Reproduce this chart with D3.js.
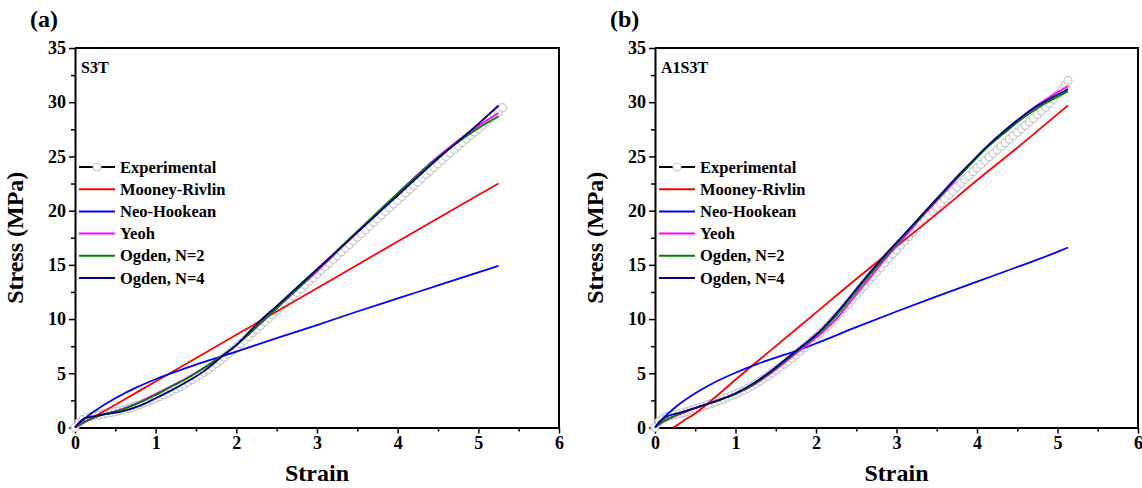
<!DOCTYPE html>
<html><head><meta charset="utf-8">
<script src="https://cdn.jsdelivr.net/npm/d3@7"></script>
<style>
body{margin:0;background:#fff}
text{font-family:"Liberation Serif","Times New Roman",serif;font-weight:bold;fill:#000}
</style>
</head><body>
<svg id="c" width="1142" height="488"></svg>
<script>
// ---------- data ----------
const seriesNames = ["Experimental","Mooney-Rivlin","Neo-Hookean","Yeoh","Ogden, N=2","Ogden, N=4"];
const seriesColors = ["#000000","#ff0000","#0000ff","#ff00ff","#008000","#000080"];
const xTicks = [0,1,2,3,4,5,6];
const yTicks = [0,5,10,15,20,25,30,35];
const panelLabels = ["(a)","(b)"];
const sampleNames = ["S3T","A1S3T"];

// Panel (a) S3T : [strain, stress MPa]
const expA = [[0,0],[0.05,0.45],[0.10,0.75],[0.15,0.92],[0.20,1.02],[0.25,1.1],[0.30,1.17],[0.35,1.24],[0.40,1.31],[0.45,1.38],[0.50,1.46],[0.55,1.54],[0.60,1.63],[0.65,1.74],[0.70,1.85],[0.75,1.97],[0.80,2.1],[0.85,2.24],[0.90,2.38],[0.95,2.53],[1.00,2.69],[1.05,2.85],[1.10,3.02],[1.15,3.2],[1.20,3.38],[1.25,3.57],[1.30,3.77],[1.35,3.97],[1.40,4.18],[1.45,4.4],[1.50,4.62],[1.55,4.85],[1.60,5.09],[1.65,5.35],[1.70,5.62],[1.75,5.9],[1.80,6.19],[1.85,6.48],[1.90,6.78],[1.95,7.09],[2.00,7.4],[2.05,7.72],[2.10,8.05],[2.15,8.38],[2.20,8.72],[2.25,9.06],[2.30,9.4],[2.35,9.74],[2.40,10.08],[2.45,10.42],[2.50,10.76],[2.55,11.1],[2.60,11.44],[2.65,11.78],[2.70,12.12],[2.75,12.46],[2.80,12.8],[2.85,13.14],[2.90,13.48],[2.95,13.82],[3.00,14.16],[3.05,14.5],[3.10,14.84],[3.15,15.18],[3.20,15.52],[3.25,15.86],[3.30,16.2],[3.35,16.54],[3.40,16.88],[3.45,17.22],[3.50,17.56],[3.55,17.9],[3.60,18.24],[3.65,18.58],[3.70,18.92],[3.75,19.26],[3.80,19.6],[3.85,19.94],[3.90,20.28],[3.95,20.62],[4.00,20.96],[4.05,21.3],[4.10,21.64],[4.15,21.98],[4.20,22.32],[4.25,22.66],[4.30,23.0],[4.35,23.34],[4.40,23.68],[4.45,24.01],[4.50,24.34],[4.55,24.67],[4.60,25.0],[4.65,25.33],[4.70,25.66],[4.75,25.98],[4.80,26.3],[4.85,26.62],[4.90,26.94],[4.95,27.25],[5.00,27.56],[5.05,27.87],[5.10,28.18],[5.15,28.48],[5.20,28.78],[5.25,29.08],[5.30,29.5]];
const mooneyA = [[0,0],[0.5,2.1],[1,4.25],[2,8.55],[3,12.85],[4,17.15],[5,21.45],[5.25,22.5]];
const neoA = [[0,0],[0.1,0.7],[0.25,1.55],[0.5,2.7],[0.75,3.65],[1.0,4.45],[1.25,5.15],[1.5,5.8],[2.0,7.0],[2.5,8.25],[3.0,9.45],[3.5,10.7],[4.0,11.9],[4.5,13.1],[5.0,14.3],[5.25,14.9]];
const yeohA = [[0,0],[0.12,0.5],[0.3,1.1],[0.56,1.65],[0.8,2.35],[1.0,3.1],[1.2,3.85],[1.43,4.75],[1.6,5.5],[1.8,6.5],[2.0,7.6],[2.3,9.6],[2.5,11.0],[3.0,14.4],[3.5,18.0],[4.0,21.6],[4.5,25.0],[5.0,27.8],[5.25,29.0]];
const ogden2A = [[0,0],[0.12,0.55],[0.3,1.1],[0.56,1.6],[0.8,2.3],[1.0,3.0],[1.2,3.8],[1.43,4.7],[1.6,5.5],[1.8,6.5],[2.0,7.6],[2.3,9.6],[2.5,11.0],[3.0,14.5],[3.5,18.1],[4.0,21.6],[4.5,24.9],[5.0,27.6],[5.25,28.7]];
const ogden4A = [[0,0],[0.05,0.45],[0.12,0.85],[0.2,1.0],[0.35,1.2],[0.56,1.45],[0.8,2.0],[1.0,2.7],[1.2,3.45],[1.43,4.4],[1.6,5.2],[1.8,6.4],[2.0,7.6],[2.29,9.8],[2.5,11.2],[3.0,14.6],[3.5,18.0],[4.0,21.4],[4.5,24.8],[5.0,28.0],[5.25,29.7]];

// Panel (b) A1S3T
const expB = [[0,0],[0.05,0.55],[0.10,0.85],[0.15,1.0],[0.20,1.1],[0.25,1.18],[0.30,1.27],[0.35,1.36],[0.40,1.47],[0.45,1.58],[0.50,1.7],[0.55,1.82],[0.60,1.95],[0.65,2.08],[0.70,2.21],[0.75,2.35],[0.80,2.49],[0.85,2.63],[0.90,2.78],[0.95,2.93],[1.00,3.08],[1.05,3.25],[1.10,3.43],[1.15,3.62],[1.20,3.82],[1.25,4.04],[1.30,4.27],[1.35,4.51],[1.40,4.76],[1.45,5.02],[1.50,5.29],[1.55,5.56],[1.60,5.84],[1.65,6.13],[1.70,6.42],[1.75,6.72],[1.80,7.03],[1.85,7.34],[1.90,7.66],[1.95,7.99],[2.00,8.33],[2.05,8.68],[2.10,9.04],[2.15,9.41],[2.20,9.79],[2.25,10.18],[2.30,10.58],[2.35,10.99],[2.40,11.4],[2.45,11.82],[2.50,12.24],[2.55,12.66],[2.60,13.08],[2.65,13.5],[2.70,13.92],[2.75,14.34],[2.80,14.76],[2.85,15.17],[2.90,15.58],[2.95,15.99],[3.00,16.4],[3.05,16.8],[3.10,17.2],[3.15,17.6],[3.20,18.0],[3.25,18.39],[3.30,18.78],[3.35,19.17],[3.40,19.56],[3.45,19.94],[3.50,20.32],[3.55,20.7],[3.60,21.07],[3.65,21.44],[3.70,21.81],[3.75,22.17],[3.80,22.53],[3.85,22.89],[3.90,23.24],[3.95,23.59],[4.00,23.94],[4.05,24.28],[4.10,24.62],[4.15,24.96],[4.20,25.29],[4.25,25.62],[4.30,25.95],[4.35,26.27],[4.40,26.59],[4.45,26.91],[4.50,27.23],[4.55,27.55],[4.60,27.87],[4.65,28.19],[4.70,28.52],[4.75,28.85],[4.80,29.19],[4.85,29.54],[4.90,29.9],[4.95,30.28],[5.00,30.68],[5.05,31.1],[5.10,31.6],[5.13,32.0]];
const mooneyB = [[0.23,0],[0.35,0.6],[0.5,1.3],[0.75,2.8],[1.0,4.4],[1.5,7.5],[2.0,10.6],[2.5,13.7],[3.0,16.7],[3.5,19.7],[4.0,22.8],[4.5,25.8],[5.0,28.9],[5.13,29.7]];
const neoB = [[0,0],[0.1,0.85],[0.25,1.85],[0.5,3.15],[0.75,4.2],[1.0,5.05],[1.25,5.8],[1.5,6.45],[1.75,7.05],[2.0,7.75],[2.5,9.25],[3.0,10.7],[3.5,12.1],[4.0,13.45],[4.5,14.8],[5.0,16.2],[5.13,16.6]];
const yeohB = [[0,0],[0.1,0.5],[0.3,1.2],[0.56,1.95],[0.81,2.6],[1.0,3.1],[1.22,3.9],[1.43,4.95],[1.64,6.15],[1.85,7.4],[2.05,8.6],[2.25,10.0],[2.46,11.9],[2.67,13.8],[2.88,15.7],[3.08,17.4],[3.29,19.2],[3.5,20.9],[3.71,22.6],[3.92,24.3],[4.12,25.8],[4.33,27.2],[4.53,28.5],[4.74,29.7],[4.95,30.7],[5.13,31.5]];
const ogden2B = [[0,0],[0.1,0.55],[0.3,1.25],[0.56,1.95],[0.81,2.6],[1.0,3.1],[1.22,3.95],[1.43,5.05],[1.64,6.3],[1.85,7.55],[2.05,8.8],[2.25,10.3],[2.46,12.2],[2.67,14.1],[2.88,15.9],[3.08,17.6],[3.29,19.3],[3.5,21.0],[3.71,22.7],[3.92,24.3],[4.12,25.8],[4.33,27.1],[4.53,28.3],[4.74,29.4],[4.95,30.3],[5.13,31.0]];
const ogden4B = [[0,0],[0.05,0.5],[0.14,0.98],[0.3,1.35],[0.56,1.95],[0.81,2.55],[1.0,3.15],[1.22,4.05],[1.43,5.15],[1.64,6.4],[1.85,7.65],[2.05,8.9],[2.25,10.5],[2.46,12.4],[2.67,14.3],[2.88,16.1],[3.08,17.7],[3.29,19.4],[3.5,21.1],[3.71,22.8],[3.92,24.4],[4.12,25.9],[4.33,27.3],[4.53,28.5],[4.74,29.6],[4.95,30.5],[5.13,31.2]];

const panels = [
  {x0:75, x1:559, label:panelLabels[0], name:sampleNames[0], exp:expA, fits:[mooneyA,neoA,yeohA,ogden2A,ogden4A]},
  {x0:655, x1:1138, label:panelLabels[1], name:sampleNames[1], exp:expB, fits:[mooneyB,neoB,yeohB,ogden2B,ogden4B]}
];

// ---------- drawing ----------
const svg = d3.select("#c");
const yTop = 48, yBot = 427.5;

panels.forEach(p => {
  const x = d3.scaleLinear().domain([0,6]).range([p.x0, p.x1]);
  const y = d3.scaleLinear().domain([0,35]).range([yBot, yTop]);
  const g = svg.append("g");

  g.append("text").attr("x", p.x0 - 45).attr("y", 27).attr("font-size", 24).text(p.label);

  // minor ticks
  g.append("g").attr("transform", `translate(0,${yBot})`)
    .call(d3.axisBottom(x).tickValues(d3.range(0.5,6,1)).tickSize(4).tickFormat(""))
    .call(a => a.select(".domain").remove());
  g.append("g").attr("transform", `translate(${p.x0},0)`)
    .call(d3.axisLeft(y).tickValues(d3.range(2.5,35,5)).tickSize(4).tickFormat(""))
    .call(a => a.select(".domain").remove());

  // major axes
  const xa = g.append("g").attr("transform", `translate(0,${yBot})`)
    .call(d3.axisBottom(x).tickValues(xTicks).tickFormat(d3.format("d")).tickSize(6).tickSizeOuter(0).tickPadding(3));
  const ya = g.append("g").attr("transform", `translate(${p.x0},0)`)
    .call(d3.axisLeft(y).tickValues(yTicks).tickFormat(d3.format("d")).tickSize(6).tickSizeOuter(0).tickPadding(3));
  [xa, ya].forEach(a => {
    a.selectAll("text").attr("font-size", 18).attr("font-family", null);
    a.select(".domain").attr("stroke-width", 2);
  });
  g.selectAll(".tick line").attr("stroke-width", 1.5);

  // top & right border
  g.append("path")
    .attr("d", `M${p.x0},${yTop}H${p.x1}V${yBot}`)
    .attr("fill","none").attr("stroke","#000").attr("stroke-width",2);

  // axis titles
  g.append("text").attr("x", (p.x0+p.x1)/2).attr("y", 481)
    .attr("text-anchor","middle").attr("font-size", 24).text("Strain");
  g.append("text").attr("transform", `translate(${p.x0-52},${(yTop+yBot)/2}) rotate(-90)`)
    .attr("text-anchor","middle").attr("font-size", 24).text("Stress (MPa)");

  g.append("text").attr("x", p.x0 + 6).attr("y", 73).attr("font-size", 16).text(p.name);

  // experimental circles
  g.append("g").selectAll("circle").data(p.exp).join("circle")
    .attr("cx", d => x(d[0])).attr("cy", d => y(d[1])).attr("r", 4)
    .attr("fill", "#fff").attr("stroke", "#c4c4c4").attr("stroke-width", 1.2);

  // fits
  const line = d3.line().x(d => x(d[0])).y(d => y(d[1])).curve(d3.curveMonotoneX);
  p.fits.forEach((f, i) => {
    g.append("path").datum(f).attr("d", line)
      .attr("fill","none").attr("stroke", seriesColors[i+1]).attr("stroke-width", 1.8);
  });

  // legend
  const lg = g.append("g");
  seriesNames.forEach((n, i) => {
    const yy = 167 + i*22.2;
    const lx0 = p.x0 + 4, lx1 = p.x0 + 40;
    lg.append("line").attr("x1", lx0).attr("x2", lx1).attr("y1", yy).attr("y2", yy)
      .attr("stroke", seriesColors[i]).attr("stroke-width", 2);
    if (i === 0) {
      lg.append("circle").attr("cx", (lx0+lx1)/2).attr("cy", yy).attr("r", 4)
        .attr("fill","#fff").attr("stroke","#c4c4c4").attr("stroke-width",1.2);
    }
    lg.append("text").attr("x", p.x0 + 45).attr("y", yy + 5.5).attr("font-size", 16.5).text(n);
  });
});
</script>
</body></html>
